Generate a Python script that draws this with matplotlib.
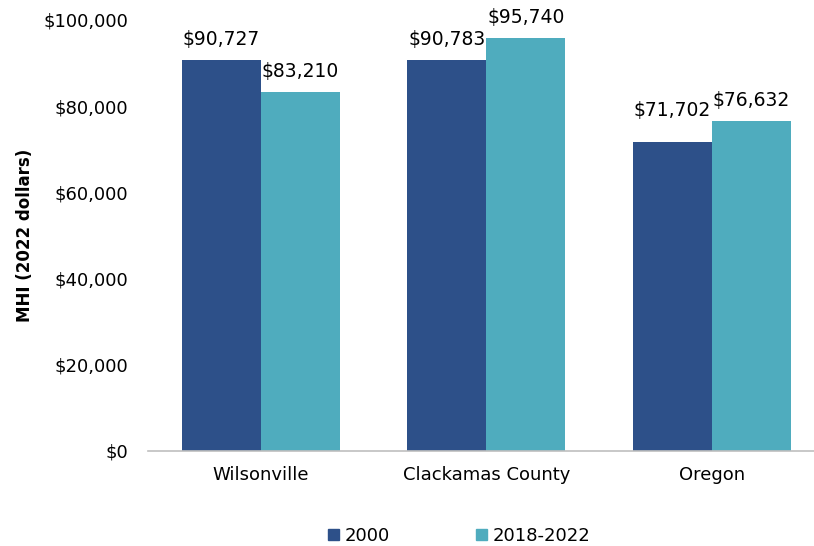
import numpy as np
import matplotlib.pyplot as plt
from matplotlib.patches import Patch

categories = ['Wilsonville', 'Clackamas County', 'Oregon']
mhi_2000 = [90727, 90783, 71702]
mhi_2018_2022 = [83210, 95740, 76632]
series_names = ['2000', '2018-2022']

c_dark = '#2D5089'
c_teal = '#4FACBE'

plt.rcParams['font.family'] = 'DejaVu Sans'

fig = plt.figure(figsize=(8.14, 5.46), dpi=100)
ax = fig.add_axes([148 / 814, 1 - 451 / 546, (814 - 148) / 814, (451 - 20) / 546])

x = np.arange(len(categories))
w = 0.35
b1 = ax.bar(x - w / 2, mhi_2000, w, color=c_dark)
b2 = ax.bar(x + w / 2, mhi_2018_2022, w, color=c_teal)

# label lift in points; the Oregon 2000 label sits a bit higher in the original
lift = [[8, 8, 15.5], [8, 8, 8]]
for k, bars in enumerate((b1, b2)):
    for i, rect in enumerate(bars):
        h = rect.get_height()
        ax.annotate('${:,.0f}'.format(h), (rect.get_x() + rect.get_width() / 2, h),
                    xytext=(0, lift[k][i]), textcoords='offset points',
                    ha='center', va='bottom', fontsize=13.5)

ax.set_xlim(-0.5, 2 + (814 - 712) / 225)
ax.set_ylim(0, 100000)
ticks = np.arange(0, 100001, 20000)
ax.set_yticks(ticks)
ax.set_yticklabels(['${:,.0f}'.format(v) for v in ticks], fontsize=13)
ax.set_xticks(x)
ax.set_xticklabels(categories, fontsize=13)
ax.tick_params(axis='both', length=0)
ax.tick_params(axis='y', pad=14)
ax.tick_params(axis='x', pad=11)

for s in ['top', 'right', 'left']:
    ax.spines[s].set_visible(False)
ax.spines['bottom'].set_color('#BFBFBF')
ax.spines['bottom'].set_linewidth(1.2)

ax.set_ylabel('MHI (2022 dollars)', fontsize=12, fontweight='bold')
ax.yaxis.set_label_coords(-(148 - 34) / 666, 0.5)

handles = [Patch(color=c_dark), Patch(color=c_teal)]
fig.legend(handles, series_names, loc='center', bbox_to_anchor=(459 / 814, 1 - 536 / 546),
           ncol=2, frameon=False, fontsize=13,
           handlelength=0.61, handleheight=0.61, handletextpad=0.33, columnspacing=4.76,
           borderpad=0, borderaxespad=0)

fig.savefig('out.png', dpi=100)
